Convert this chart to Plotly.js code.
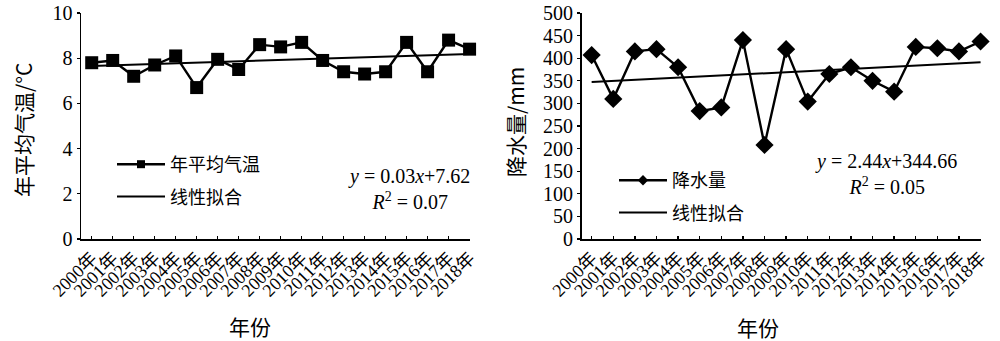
<!DOCTYPE html>
<html>
<head>
<meta charset="utf-8">
<script src="https://cdn.plot.ly/plotly-3.0.1.min.js"></script>
<style>html,body{margin:0;padding:0;background:#fff;}#chart{width:1000px;height:341px;}</style>
</head>
<body>
<div id="chart"></div>
<script>
const years = ["2000年","2001年","2002年","2003年","2004年","2005年","2006年","2007年","2008年","2009年","2010年","2011年","2012年","2013年","2014年","2015年","2016年","2017年","2018年"];
const temperature = [7.8, 7.9, 7.2, 7.7, 8.1, 6.7, 7.95, 7.5, 8.6, 8.5, 8.7, 7.9, 7.4, 7.3, 7.4, 8.7, 7.4, 8.8, 8.4];
const precipitation = [407, 310, 415, 420, 380, 283, 291, 440, 208, 420, 304, 365, 380, 350, 326, 425, 422, 415, 437];
const trendYears = ["2000年", "2018年"];
const trendTemp = [7.65, 8.19];
const trendRain = [347.1, 391.0];
const tempEq = "<i>y</i> = 0.03<i>x</i>+7.62<br><i>R</i><sup>2</sup> = 0.07";
const rainEq = "<i>y</i> = 2.44<i>x</i>+344.66<br><i>R</i><sup>2</sup> = 0.05";

const FONT = "Liberation Serif, Noto Sans CJK SC, serif";
const CJK = "Noto Sans CJK SC, Liberation Serif, serif";
const L = 81, W = 900, T = 13, H = 226;
const px = v => (v - L) / W;
const py = v => (T + H - v) / H;

const traces = [
  {x: years, y: temperature, xaxis: 'x', yaxis: 'y', mode: 'lines+markers', name: '年平均气温',
   line: {color: '#000', width: 2.4}, marker: {symbol: 'square', size: 13, color: '#000'},
   showlegend: false, cliponaxis: false},
  {x: trendYears, y: trendTemp, xaxis: 'x', yaxis: 'y', mode: 'lines', name: '线性拟合',
   line: {color: '#000', width: 2}, showlegend: false, cliponaxis: false},
  {x: [null], y: [null], xaxis: 'x', yaxis: 'y', mode: 'lines+markers', name: '年平均气温',
   line: {color: '#000', width: 2.4}, marker: {symbol: 'square', size: 8, color: '#000'},
   legend: 'legend', legendgroup: 'a1'},
  {x: [null], y: [null], xaxis: 'x', yaxis: 'y', mode: 'lines', name: '线性拟合',
   line: {color: '#000', width: 2}, legend: 'legend', legendgroup: 'a2'},

  {x: years, y: precipitation, xaxis: 'x2', yaxis: 'y2', mode: 'lines+markers', name: '降水量',
   line: {color: '#000', width: 2.4}, marker: {symbol: 'diamond', size: 14, color: '#000'},
   showlegend: false, cliponaxis: false},
  {x: trendYears, y: trendRain, xaxis: 'x2', yaxis: 'y2', mode: 'lines', name: '线性拟合',
   line: {color: '#000', width: 2}, showlegend: false, cliponaxis: false},
  {x: [null], y: [null], xaxis: 'x2', yaxis: 'y2', mode: 'lines+markers', name: '降水量',
   line: {color: '#000', width: 2.4}, marker: {symbol: 'diamond', size: 8, color: '#000'},
   legend: 'legend2', legendgroup: 'b1'},
  {x: [null], y: [null], xaxis: 'x2', yaxis: 'y2', mode: 'lines', name: '线性拟合',
   line: {color: '#000', width: 2}, legend: 'legend2', legendgroup: 'b2'}
];

const xBase = {type: 'category', showgrid: false, zeroline: false, showline: true, linecolor: '#000', linewidth: 1.5,
  ticks: 'inside', ticklen: 3, tickwidth: 1.3, tickcolor: '#000', tickangle: -45,
  tickmode: 'array', tickvals: years, ticktext: years,
  tickfont: {family: FONT, size: 18, color: '#000'}};
const yBase = {showgrid: false, zeroline: false, showline: true, linecolor: '#000', linewidth: 1.5,
  ticks: 'outside', ticklen: 3, tickwidth: 1.3, tickcolor: '#000',
  tickfont: {family: FONT, size: 20, color: '#000'}};

const legBase = {font: {family: CJK, size: 18, color: '#000'}, bgcolor: 'rgba(0,0,0,0)', borderwidth: 0,
  xanchor: 'left', yanchor: 'top', tracegroupgap: 6, itemwidth: 48, orientation: 'v'};

function ann(x, y, text, font, extra) {
  return Object.assign({xref: 'paper', yref: 'paper', x: px(x), y: py(y), text: text, showarrow: false,
    xanchor: 'center', yanchor: 'middle', align: 'center', font: font}, extra || {});
}

const layout = {
  width: 1000, height: 341,
  margin: {l: L, r: 1000 - L - W, t: T, b: 341 - T - H},
  paper_bgcolor: '#fff', plot_bgcolor: '#fff',
  showlegend: true,
  xaxis: Object.assign({}, xBase, {domain: [0, px(470)], range: [-0.51, 18.02], anchor: 'y'}),
  yaxis: Object.assign({}, yBase, {range: [0, 10], dtick: 2, anchor: 'x'}),
  xaxis2: Object.assign({}, xBase, {domain: [px(581.5), 1], range: [-0.47, 18.02], anchor: 'y2'}),
  yaxis2: Object.assign({}, yBase, {range: [0, 500], dtick: 50, anchor: 'x2'}),
  legend: Object.assign({}, legBase, {x: px(112), y: py(146)}),
  legend2: Object.assign({}, legBase, {x: px(614), y: py(162)}),
  annotations: [
    ann(23, 130, '年平均气温/°C', {family: CJK, size: 21, color: '#000'}, {textangle: -90}),
    ann(515, 122, '降水量/mm', {family: CJK, size: 21, color: '#000'}, {textangle: -90}),
    ann(250, 326, '年份', {family: CJK, size: 21, color: '#000'}),
    ann(758, 327, '年份', {family: CJK, size: 21, color: '#000'}),
    ann(409, 189, tempEq, {family: FONT, size: 20, color: '#000'}),
    ann(886, 174, rainEq, {family: FONT, size: 20, color: '#000'})
  ]
};

Plotly.newPlot('chart', traces, layout, {staticPlot: true, displayModeBar: false});
</script>
</body>
</html>
